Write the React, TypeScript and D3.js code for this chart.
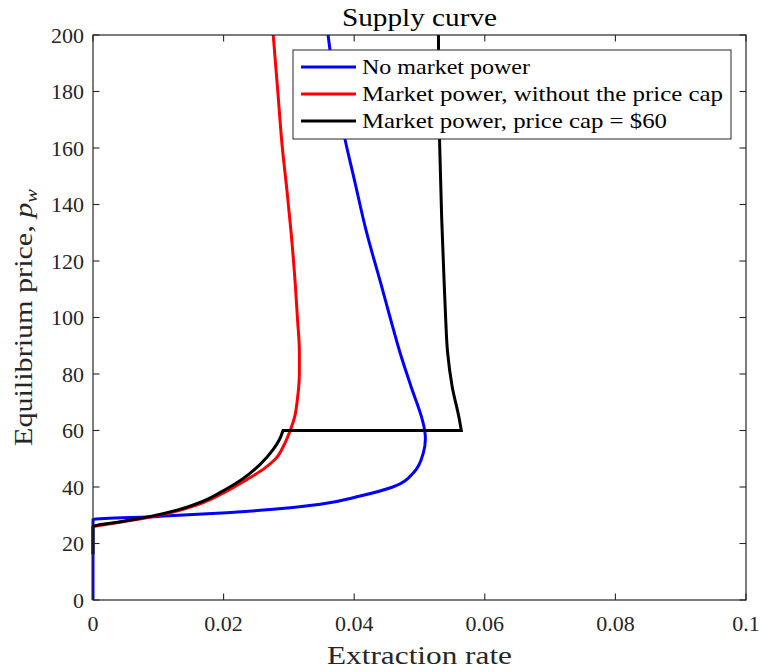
import React from "react";
import * as d3 from "d3";

// Supply curves: [extraction rate, equilibrium price]
const noMarketPower: [number, number][] = [
  [0, 0], [0, 28.5], [0.010, 29.6], [0.0205, 30.9], [0.0276, 32.1], [0.0348, 33.9],
  [0.0409, 36.8], [0.0460, 40.1], [0.0491, 45.1], [0.0506, 52.2], [0.0509, 57],
  [0.0508, 60], [0.0504, 64], [0.0487, 75.6], [0.0470, 87.7], [0.0455, 100],
  [0.0442, 111], [0.0418, 131], [0.0400, 149], [0.0386, 163], [0.0372, 180],
  [0.0360, 200],
];

const marketPowerNoCap: [number, number][] = [
  [0, 26.0], [0.0045, 27.7], [0.009, 29.5], [0.013, 31.6], [0.0167, 34.3],
  [0.0200, 37.9], [0.0236, 42.7], [0.0262, 46.5], [0.0279, 49.8], [0.0293, 55.1],
  [0.0302, 60], [0.0309, 65], [0.0313, 71], [0.0316, 80], [0.0316, 88],
  [0.0313, 100], [0.0310, 111], [0.0303, 131], [0.0297, 145], [0.0290, 160],
  [0.0283, 180], [0.0276, 200],
];

const marketPowerCap60: [number, number][] = [
  [0, 16.2], [0, 26.0], [0.0045, 27.8], [0.009, 29.7], [0.013, 31.9], [0.0167, 34.8],
  [0.0195, 38.1], [0.0228, 42.7], [0.0256, 48.0], [0.0276, 53.3], [0.0286, 57],
  [0.0291, 60], [0.0564, 60], [0.0561, 64], [0.0550, 75.6], [0.0543, 87.7],
  [0.0540, 100], [0.0538, 111], [0.0534, 135], [0.0531, 160], [0.0529, 200],
];

const seriesNames = [
  "No market power",
  "Market power, without the price cap",
  "Market power, price cap = $60",
];
const seriesColors = ["#0000ff", "#ff0000", "#000000"];

const xTicks = [0, 0.02, 0.04, 0.06, 0.08, 0.1];
const xTickLabels = ["0", "0.02", "0.04", "0.06", "0.08", "0.1"];
const yTicks = [0, 20, 40, 60, 80, 100, 120, 140, 160, 180, 200];

const W = 761;
const H = 672;
const M = { left: 93, right: 746, top: 35, bottom: 600 };
const AXIS = "#262626";
const FONT = "Liberation Serif, DejaVu Serif, serif";
const TICK = 6.5;

export default function App() {
  const x = d3.scaleLinear().domain([0, 0.1]).range([M.left, M.right]);
  const y = d3.scaleLinear().domain([0, 200]).range([M.bottom, M.top]);

  const linear = d3
    .line<[number, number]>()
    .x((d) => x(d[0]))
    .y((d) => y(d[1]));
  const mono = d3
    .line<[number, number]>()
    .x((d) => x(d[0]))
    .y((d) => y(d[1]))
    .curve(d3.curveMonotoneY);

  // Smooth each run where price rises; flat runs (the cap) are straight.
  const curvePath = (data: [number, number][]) => {
    const runs: { pts: [number, number][]; flat: boolean }[] = [];
    let cur: [number, number][] = [data[0]];
    for (let i = 1; i < data.length; i++) {
      if (data[i][1] > data[i - 1][1]) {
        cur.push(data[i]);
      } else {
        if (cur.length > 1) runs.push({ pts: cur, flat: false });
        runs.push({ pts: [data[i - 1], data[i]], flat: true });
        cur = [data[i]];
      }
    }
    if (cur.length > 1) runs.push({ pts: cur, flat: false });
    return runs
      .map((r, k) => {
        const s = (r.flat ? linear(r.pts) : mono(r.pts)) || "";
        return k === 0 ? s : s.replace(/^M/, "L");
      })
      .join("");
  };

  const series = [noMarketPower, marketPowerNoCap, marketPowerCap60];

  const legend = { x: 293, y: 50, w: 438, h: 89, row0: 67, rowGap: 27 };
  const legendTextLen = [168, 361, 305];

  return (
    <svg width={W} height={H} style={{ position: "absolute", left: 0, top: 0 }}>
      <rect width={W} height={H} fill="#fff" />

      {/* curves */}
      {series.map((s, i) => (
        <path
          key={i}
          d={curvePath(s)}
          fill="none"
          stroke={seriesColors[i]}
          strokeWidth={3}
          strokeLinejoin="miter"
        />
      ))}

      {/* axes box */}
      <rect
        x={M.left}
        y={M.top}
        width={M.right - M.left}
        height={M.bottom - M.top}
        fill="none"
        stroke={AXIS}
        strokeWidth={1.2}
      />

      {/* x ticks */}
      {xTicks.map((t, i) => (
        <g key={"x" + i}>
          <line x1={x(t)} x2={x(t)} y1={M.bottom} y2={M.bottom - TICK} stroke={AXIS} strokeWidth={1.1} />
          <line x1={x(t)} x2={x(t)} y1={M.top} y2={M.top + TICK} stroke={AXIS} strokeWidth={1.1} />
          <text
            x={x(t)}
            y={631}
            textAnchor="middle"
            fontFamily={FONT}
            fontSize={22}
            fill={AXIS}
          >
            {xTickLabels[i]}
          </text>
        </g>
      ))}

      {/* y ticks */}
      {yTicks.map((t, i) => (
        <g key={"y" + i}>
          <line x1={M.left} x2={M.left + TICK} y1={y(t)} y2={y(t)} stroke={AXIS} strokeWidth={1.1} />
          <line x1={M.right} x2={M.right - TICK} y1={y(t)} y2={y(t)} stroke={AXIS} strokeWidth={1.1} />
          <text
            x={84}
            y={y(t) + 7.5}
            textAnchor="end"
            fontFamily={FONT}
            fontSize={22}
            fill={AXIS}
          >
            {t}
          </text>
        </g>
      ))}

      {/* title */}
      <text
        x={(M.left + M.right) / 2}
        y={26}
        textAnchor="middle"
        fontFamily={FONT}
        fontSize={25}
        fill="#000"
        textLength={155}
        lengthAdjust="spacingAndGlyphs"
      >
        Supply curve
      </text>

      {/* x label */}
      <text
        x={(M.left + M.right) / 2}
        y={664}
        textAnchor="middle"
        fontFamily={FONT}
        fontSize={25}
        fill={AXIS}
        textLength={185}
        lengthAdjust="spacingAndGlyphs"
      >
        Extraction rate
      </text>

      {/* y label */}
      <text
        transform={`translate(32, ${(M.top + M.bottom) / 2}) rotate(-90)`}
        textAnchor="middle"
        fontFamily={FONT}
        fontSize={25}
        fill={AXIS}
        textLength={257}
        lengthAdjust="spacingAndGlyphs"
      >
        Equilibrium price,{" "}
        <tspan fontStyle="italic">p</tspan>
        <tspan fontStyle="italic" fontSize={17} dy={5}>w</tspan>
      </text>

      {/* legend */}
      <rect
        x={legend.x}
        y={legend.y}
        width={legend.w}
        height={legend.h}
        fill="#fff"
        stroke={AXIS}
        strokeWidth={1}
      />
      {seriesNames.map((name, i) => {
        const ry = legend.row0 + i * legend.rowGap;
        return (
          <g key={"l" + i}>
            <line x1={301} x2={356} y1={ry} y2={ry} stroke={seriesColors[i]} strokeWidth={3} />
            <text
              x={362}
              y={ry + 7}
              fontFamily={FONT}
              fontSize={21}
              fill="#000"
              textLength={legendTextLen[i]}
              lengthAdjust="spacingAndGlyphs"
            >
              {name}
            </text>
          </g>
        );
      })}
    </svg>
  );
}
